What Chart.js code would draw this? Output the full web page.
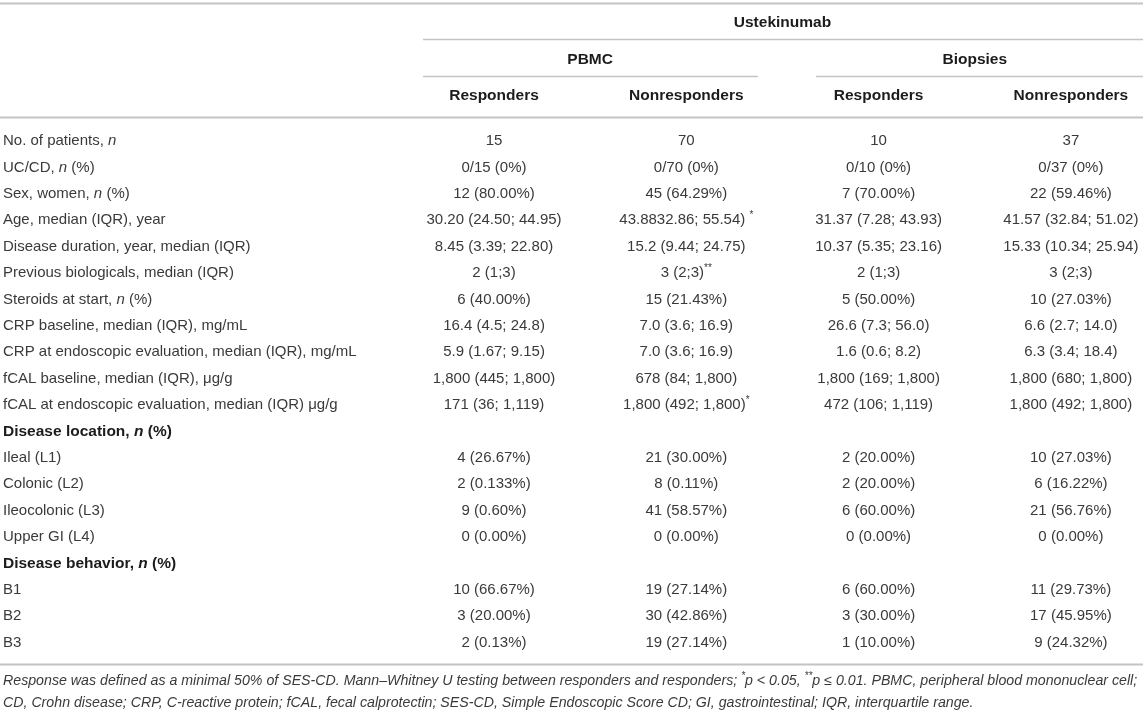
<!DOCTYPE html>
<html>
<head>
<meta charset="utf-8">
<title>Ustekinumab responders table</title>
<script src="https://cdn.jsdelivr.net/npm/chart.js@4.4.1/dist/chart.umd.min.js"></script>
<style>
  html, body { margin: 0; padding: 0; background: #fff; }
  canvas { display: block; }
</style>
</head>
<body>
<canvas id="table" width="1143" height="711"></canvas>
<script>
// _text_ = italic, ^text^ = superscript
const topHeader = 'Ustekinumab';
const groupLabels = ['PBMC', 'Biopsies'];
const groupSpans = [[0, 1], [2, 3]];
const subgroupLabels = ['Responders', 'Nonresponders', 'Responders', 'Nonresponders'];

const rowLabels = [
  'No. of patients, _n_',
  'UC/CD, _n_ (%)',
  'Sex, women, _n_ (%)',
  'Age, median (IQR), year',
  'Disease duration, year, median (IQR)',
  'Previous biologicals, median (IQR)',
  'Steroids at start, _n_ (%)',
  'CRP baseline, median (IQR), mg/mL',
  'CRP at endoscopic evaluation, median (IQR), mg/mL',
  'fCAL baseline, median (IQR), μg/g',
  'fCAL at endoscopic evaluation, median (IQR) μg/g',
  'Disease location, _n_ (%)',
  'Ileal (L1)',
  'Colonic (L2)',
  'Ileocolonic (L3)',
  'Upper GI (L4)',
  'Disease behavior, _n_ (%)',
  'B1',
  'B2',
  'B3'
];
const sectionRows = [11, 16];

const pbmcResponders = ['15', '0/15 (0%)', '12 (80.00%)', '30.20 (24.50; 44.95)', '8.45 (3.39; 22.80)',
  '2 (1;3)', '6 (40.00%)', '16.4 (4.5; 24.8)', '5.9 (1.67; 9.15)', '1,800 (445; 1,800)', '171 (36; 1,119)',
  '', '4 (26.67%)', '2 (0.133%)', '9 (0.60%)', '0 (0.00%)', '', '10 (66.67%)', '3 (20.00%)', '2 (0.13%)'];
const pbmcNonresponders = ['70', '0/70 (0%)', '45 (64.29%)', '43.8832.86; 55.54) ^*^', '15.2 (9.44; 24.75)',
  '3 (2;3)^**^', '15 (21.43%)', '7.0 (3.6; 16.9)', '7.0 (3.6; 16.9)', '678 (84; 1,800)', '1,800 (492; 1,800)^*^',
  '', '21 (30.00%)', '8 (0.11%)', '41 (58.57%)', '0 (0.00%)', '', '19 (27.14%)', '30 (42.86%)', '19 (27.14%)'];
const biopsyResponders = ['10', '0/10 (0%)', '7 (70.00%)', '31.37 (7.28; 43.93)', '10.37 (5.35; 23.16)',
  '2 (1;3)', '5 (50.00%)', '26.6 (7.3; 56.0)', '1.6 (0.6; 8.2)', '1,800 (169; 1,800)', '472 (106; 1,119)',
  '', '2 (20.00%)', '2 (20.00%)', '6 (60.00%)', '0 (0.00%)', '', '6 (60.00%)', '3 (30.00%)', '1 (10.00%)'];
const biopsyNonresponders = ['37', '0/37 (0%)', '22 (59.46%)', '41.57 (32.84; 51.02)', '15.33 (10.34; 25.94)',
  '3 (2;3)', '10 (27.03%)', '6.6 (2.7; 14.0)', '6.3 (3.4; 18.4)', '1,800 (680; 1,800)', '1,800 (492; 1,800)',
  '', '10 (27.03%)', '6 (16.22%)', '21 (56.76%)', '0 (0.00%)', '', '11 (29.73%)', '17 (45.95%)', '9 (24.32%)'];

const footnoteLines = [
  'Response was defined as a minimal 50% of SES-CD. Mann–Whitney U testing between responders and responders; ^*^p < 0.05, ^**^p ≤ 0.01. PBMC, peripheral blood mononuclear cell;',
  'CD, Crohn disease; CRP, C-reactive protein; fCAL, fecal calprotectin; SES-CD, Simple Endoscopic Score CD; GI, gastrointestinal; IQR, interquartile range.'
];

const columns = [pbmcResponders, pbmcNonresponders, biopsyResponders, biopsyNonresponders];

// scale ranges: one x unit per column, one y unit per body row
const X_MIN = -2.569, X_MAX = 3.375;
const Y_MIN = -5.341, Y_MAX = 21.591;
const LEVEL = { top: -4.47, group: -3.07, sub: -1.70, foot: [20.45, 21.29] };
const RULES = [
  { y: -5.23, from: X_MIN, to: X_MAX, w: 2 },
  { y: -3.86, from: -0.369, to: X_MAX, w: 1.5 },
  { y: -2.46, from: -0.369, to: 1.373, w: 1.5 },
  { y: -2.46, from: 1.674, to: X_MAX, w: 1.5 },
  { y: -0.91, from: X_MIN, to: X_MAX, w: 2 },
  { y: 19.81, from: X_MIN, to: X_MAX, w: 2 }
];

const FAMILY = '"Liberation Sans", Arial, Helvetica, sans-serif';
const TEXT = '#3a3a3a', BOLD = '#1c1c1c', RULE = '#c4c4c4';

function parseRich(text) {
  const segs = [];
  let italic = false, sup = false, buf = '';
  for (const ch of text) {
    if (ch === '_' || ch === '^') {
      if (buf) segs.push({ t: buf, italic, sup });
      buf = '';
      if (ch === '_') italic = !italic; else sup = !sup;
    } else buf += ch;
  }
  if (buf) segs.push({ t: buf, italic, sup });
  return segs;
}

function drawRich(ctx, text, x, y, opt) {
  const segs = parseRich(text);
  const fontOf = s => `${(s.italic || opt.italic) ? 'italic ' : ''}${opt.bold ? 'bold ' : ''}${s.sup ? Math.round(opt.size * 0.68) : opt.size}px ${FAMILY}`;
  let total = 0;
  segs.forEach(s => { ctx.font = fontOf(s); s.w = ctx.measureText(s.t).width; total += s.w; });
  let cx = opt.align === 'center' ? x - total / 2 : x;
  ctx.fillStyle = opt.color;
  ctx.textBaseline = 'middle';
  ctx.textAlign = 'left';
  segs.forEach(s => {
    ctx.font = fontOf(s);
    ctx.fillText(s.t, cx, s.sup ? y - opt.size * 0.3 : y);
    cx += s.w;
  });
}

const cellText = {
  id: 'cellText',
  afterDatasetsDraw(chart) {
    const { ctx, scales: { x, y } } = chart;
    ctx.save();
    RULES.forEach(r => {
      const py = Math.round(y.getPixelForValue(r.y)) + 0.5;
      ctx.strokeStyle = RULE;
      ctx.lineWidth = r.w;
      ctx.beginPath();
      ctx.moveTo(x.getPixelForValue(r.from), py);
      ctx.lineTo(x.getPixelForValue(r.to), py);
      ctx.stroke();
    });
    chart.data.datasets.forEach((ds, i) => {
      const meta = chart.getDatasetMeta(i);
      meta.data.forEach((el, j) => {
        const t = ds.cells[j];
        if (!t) return;
        const bold = ds.bold || (ds.boldRows && ds.boldRows.includes(j));
        drawRich(ctx, t, el.x + (ds.align === 'left' ? 3 : 0), el.y, {
          align: ds.align, size: ds.size || (bold ? 15.5 : 15), bold, italic: ds.italic,
          color: bold ? BOLD : TEXT
        });
      });
    });
    ctx.restore();
  }
};

const datasets = [
  {
    label: 'Characteristic', cells: rowLabels, align: 'left', boldRows: sectionRows,
    data: rowLabels.map((t, r) => ({ x: X_MIN, y: r }))
  },
  ...columns.map((vals, c) => ({
    label: subgroupLabels[c], cells: vals, align: 'center',
    data: vals.map((t, r) => ({ x: c, y: r }))
  })),
  {
    label: 'subgroups', cells: subgroupLabels, align: 'center', bold: true,
    data: subgroupLabels.map((t, c) => ({ x: c, y: LEVEL.sub }))
  },
  {
    label: 'groups', cells: groupLabels, align: 'center', bold: true,
    data: groupSpans.map(s => ({ x: (s[0] + s[1]) / 2, y: LEVEL.group }))
  },
  {
    label: 'treatment', cells: [topHeader], align: 'center', bold: true,
    data: [{ x: (columns.length - 1) / 2, y: LEVEL.top }]
  },
  {
    label: 'footnote', cells: footnoteLines, align: 'left', italic: true, size: 14.2,
    data: footnoteLines.map((t, k) => ({ x: X_MIN, y: LEVEL.foot[k] }))
  }
];

new Chart(document.getElementById('table'), {
  type: 'scatter',
  data: { datasets },
  options: {
    responsive: false,
    animation: false,
    layout: { padding: 0 },
    elements: { point: { radius: 0, hoverRadius: 0 } },
    plugins: { legend: { display: false }, tooltip: { enabled: false }, title: { display: false } },
    scales: {
      x: { type: 'linear', min: X_MIN, max: X_MAX, display: false },
      y: { type: 'linear', min: Y_MIN, max: Y_MAX, reverse: true, display: false }
    }
  },
  plugins: [cellText]
});
</script>
</body>
</html>
